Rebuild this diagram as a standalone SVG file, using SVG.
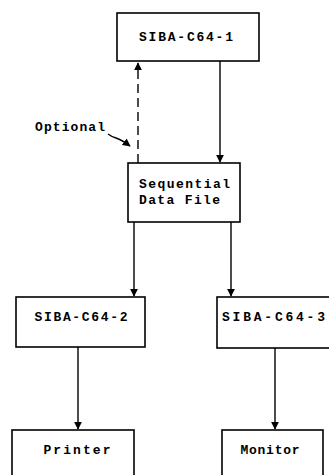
<svg xmlns="http://www.w3.org/2000/svg" width="329" height="475" viewBox="0 0 329 475">
<style>
.box{fill:#fff;stroke:#000;stroke-width:1.6}
.lbl{font-family:"Liberation Mono","DejaVu Sans Mono",monospace;font-weight:bold;font-size:13px;fill:#000}
.ln{stroke:#000;stroke-width:1.4;fill:none}
</style>
<defs>
<marker id="ah" viewBox="0 0 10 10" refX="9" refY="5" markerWidth="8" markerHeight="8" orient="auto" markerUnits="userSpaceOnUse">
<path d="M0,0 L10,5 L0,10 z" fill="#000"/>
</marker>
</defs>
<rect width="329" height="475" fill="#fff"/>
<g id="connectors">
<line class="ln" x1="138" y1="163" x2="138" y2="63" stroke-dasharray="9,5" marker-end="url(#ah)"/>
<line class="ln" x1="220" y1="61" x2="220" y2="162" marker-end="url(#ah)"/>
<line class="ln" x1="134" y1="222" x2="134" y2="296" marker-end="url(#ah)"/>
<line class="ln" x1="231" y1="222" x2="231" y2="296" marker-end="url(#ah)"/>
<line class="ln" x1="78" y1="347" x2="78" y2="429" marker-end="url(#ah)"/>
<line class="ln" x1="275" y1="348" x2="275" y2="429" marker-end="url(#ah)"/>
<path class="ln" d="M108,134 Q112,137 116,138 Q122,140 130,146" marker-end="url(#ah)"/>
</g>
<g id="siba1">
<rect class="box" x="117" y="13" width="142" height="48"/>
<text class="lbl" x="186" y="41" text-anchor="middle" textLength="94" lengthAdjust="spacing">SIBA-C64-1</text>
</g>
<g id="optional">
<text class="lbl" x="35" y="131" textLength="70" lengthAdjust="spacing">Optional</text>
</g>
<g id="seqfile">
<rect class="box" x="128" y="163" width="112" height="59"/>
<text class="lbl" x="139" y="188" textLength="91" lengthAdjust="spacing">Sequential</text>
<text class="lbl" x="139" y="204" textLength="81" lengthAdjust="spacing">Data File</text>
</g>
<g id="siba2">
<rect class="box" x="16" y="297" width="129" height="50"/>
<text class="lbl" x="81" y="321" text-anchor="middle" textLength="93" lengthAdjust="spacing">SIBA-C64-2</text>
</g>
<g id="siba3">
<rect class="box" x="217" y="297" width="120" height="51"/>
<text class="lbl" x="222" y="321" textLength="103" lengthAdjust="spacing">SIBA-C64-3</text>
</g>
<g id="printer">
<rect class="box" x="12" y="430" width="122" height="50"/>
<text class="lbl" x="77" y="454" text-anchor="middle" textLength="67" lengthAdjust="spacing">Printer</text>
</g>
<g id="monitor">
<rect class="box" x="222" y="430" width="101" height="50"/>
<text class="lbl" x="270" y="454" text-anchor="middle" textLength="59" lengthAdjust="spacing">Monitor</text>
</g>
</svg>
